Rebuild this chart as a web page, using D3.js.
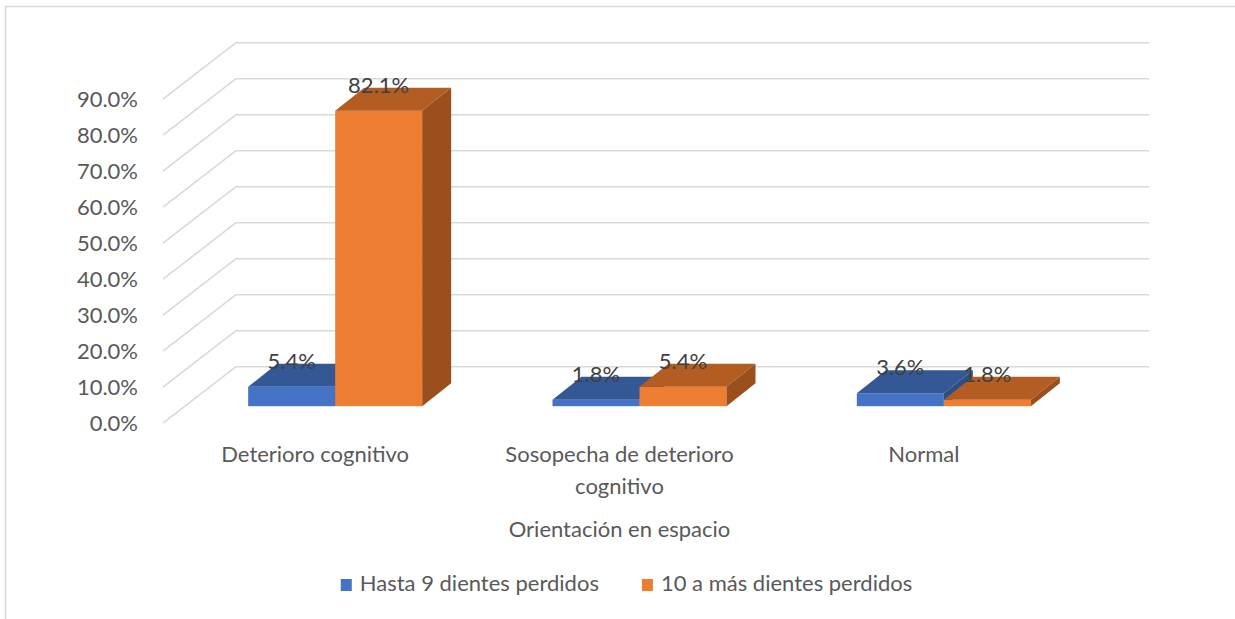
<!DOCTYPE html>
<html>
<head>
<meta charset="utf-8">
<script src="https://cdn.jsdelivr.net/npm/d3@7"></script>
<style>
  html, body { margin: 0; padding: 0; background: #ffffff; }
  svg { display: block; }
  text { font-family: Lato, "Open Sans", sans-serif; }
</style>
</head>
<body>
<script>
// ---------- DATA ----------
const categories = ["Deterioro cognitivo", "Sosopecha de deterioro cognitivo", "Normal"];
const seriesNames = ["Hasta 9 dientes perdidos", "10 a más dientes perdidos"];
const hasta9 = [5.4, 1.8, 3.6];
const diezOMas = [82.1, 5.4, 1.8];
const yTicks = [0, 10, 20, 30, 40, 50, 60, 70, 80, 90];
const axisTitle = "Orientación en espacio";

// ---------- STYLE / LAYOUT ----------
const W = 1235, H = 619;
const fontSize = 22;
const textGray = "#595959";
const labelGray = "#404040";
const gridGray = "#d9d9d9";
const palette = [
  { front: "#4472C4", top: "#335895", side: "#2C4D85" },
  { front: "#ED7D31", top: "#B45D22", side: "#9A4F1D" }
];
const wall = { left: 236, right: 1149, top: 42.7, bottom: 366.7 };
const depth = { dx: -73, dy: 56.5 };      // back wall -> front plane
const barPlane = { dx: -53, dy: 39.5 };   // back wall -> bar front face
const barDepth = { dx: 29, dy: -23 };     // bar thickness

const series = [hasta9, diezOMas];

const svg = d3.select("body").append("svg")
  .attr("width", W).attr("height", H);

// outer border
svg.append("rect")
  .attr("x", 5.5).attr("y", 6.5)
  .attr("width", W + 20).attr("height", H + 20)
  .attr("fill", "none").attr("stroke", gridGray).attr("stroke-width", 1.5);

// ---------- SCALES ----------
const y = d3.scaleLinear().domain([0, 90]).range([wall.bottom, wall.top]);
const x = d3.scaleBand().domain(categories).range([wall.left, wall.right]);
const xs = d3.scaleBand().domain(seriesNames).range([-87, 87]);

// ---------- GRID (back wall + side wall) ----------
const grid = svg.append("g");
grid.selectAll("line.back").data(yTicks).join("line")
  .attr("x1", wall.left).attr("x2", wall.right)
  .attr("y1", d => y(d)).attr("y2", d => y(d))
  .attr("stroke", gridGray).attr("stroke-width", 1.5);
grid.selectAll("line.side").data(yTicks).join("line")
  .attr("x1", wall.left).attr("y1", d => y(d))
  .attr("x2", wall.left + depth.dx).attr("y2", d => y(d) + depth.dy)
  .attr("stroke", gridGray).attr("stroke-width", 1.5);

// ---------- Y AXIS LABELS ----------
const fmt = d3.format(".1f");
svg.append("g").selectAll("text").data(yTicks).join("text")
  .attr("x", 138)
  .attr("y", d => y(d) + depth.dy)
  .attr("dy", "0.36em")
  .attr("text-anchor", "end")
  .attr("font-size", fontSize)
  .attr("fill", textGray)
  .text(d => fmt(d) + "%");

// ---------- BARS ----------
const bars = [];
categories.forEach((c, ci) => {
  seriesNames.forEach((s, si) => {
    bars.push({ cat: c, ser: s, si, v: series[si][ci] });
  });
});

const barG = svg.append("g");
bars.forEach(b => {
  const cx = x(b.cat) + x.bandwidth() / 2 + barPlane.dx;
  const x0 = cx + xs(b.ser);
  const x1 = x0 + xs.bandwidth();
  const y0 = y(0) + barPlane.dy;
  const yt = y(b.v) + barPlane.dy;
  const g = barG.append("g");
  const col = palette[b.si];
  g.append("rect")
    .attr("x", x0).attr("y", yt).attr("width", x1 - x0).attr("height", y0 - yt)
    .attr("fill", col.front);
  g.append("polygon")
    .attr("points", [[x0, yt], [x1, yt], [x1 + barDepth.dx, yt + barDepth.dy], [x0 + barDepth.dx, yt + barDepth.dy]].map(p => p.join(",")).join(" "))
    .attr("fill", col.top);
  g.append("polygon")
    .attr("points", [[x1, yt], [x1 + barDepth.dx, yt + barDepth.dy], [x1 + barDepth.dx, y0 + barDepth.dy], [x1, y0]].map(p => p.join(",")).join(" "))
    .attr("fill", col.side);
  b.lx = (x0 + x1) / 2;
  b.ly = yt - 18;
});

// ---------- DATA LABELS ----------
svg.append("g").selectAll("text").data(bars).join("text")
  .attr("x", d => d.lx).attr("y", d => d.ly)
  .attr("text-anchor", "middle")
  .attr("font-size", fontSize)
  .attr("fill", labelGray)
  .text(d => fmt(d.v) + "%");

// ---------- CATEGORY LABELS ----------
const catG = svg.append("g");
categories.forEach(c => {
  const cxl = x(c) + x.bandwidth() / 2 + depth.dx;
  const t = catG.append("text")
    .attr("x", cxl)
    .attr("y", 462)
    .attr("text-anchor", "middle")
    .attr("font-size", fontSize)
    .attr("fill", textGray);
  const words = c.split(" ");
  let line = [];
  let ts = t.append("tspan").attr("x", cxl).attr("dy", 0);
  words.forEach(w => {
    line.push(w);
    ts.text(line.join(" "));
    if (ts.node().getComputedTextLength() > 260 && line.length > 1) {
      line.pop();
      ts.text(line.join(" "));
      line = [w];
      ts = t.append("tspan").attr("x", cxl).attr("dy", 32).text(w);
    }
  });
});

// ---------- AXIS TITLE ----------
svg.append("text")
  .attr("x", (wall.left + wall.right) / 2 + depth.dx)
  .attr("y", 537)
  .attr("text-anchor", "middle")
  .attr("font-size", fontSize)
  .attr("fill", textGray)
  .text(axisTitle);

// ---------- LEGEND ----------
const legend = svg.append("g");
let cursor = 0;
seriesNames.forEach((s, i) => {
  const g = legend.append("g");
  g.append("rect").attr("x", 0).attr("y", -12).attr("width", 11).attr("height", 12)
    .attr("fill", palette[i].front);
  const t = g.append("text").attr("x", 19).attr("y", 0)
    .attr("font-size", fontSize).attr("fill", textGray).text(s);
  const w = 19 + t.node().getComputedTextLength();
  g.attr("transform", `translate(${cursor},591)`);
  cursor += w + 43;
});
const totalW = cursor - 43;
legend.attr("transform", `translate(${626.5 - totalW / 2},0)`);
</script>
</body>
</html>
